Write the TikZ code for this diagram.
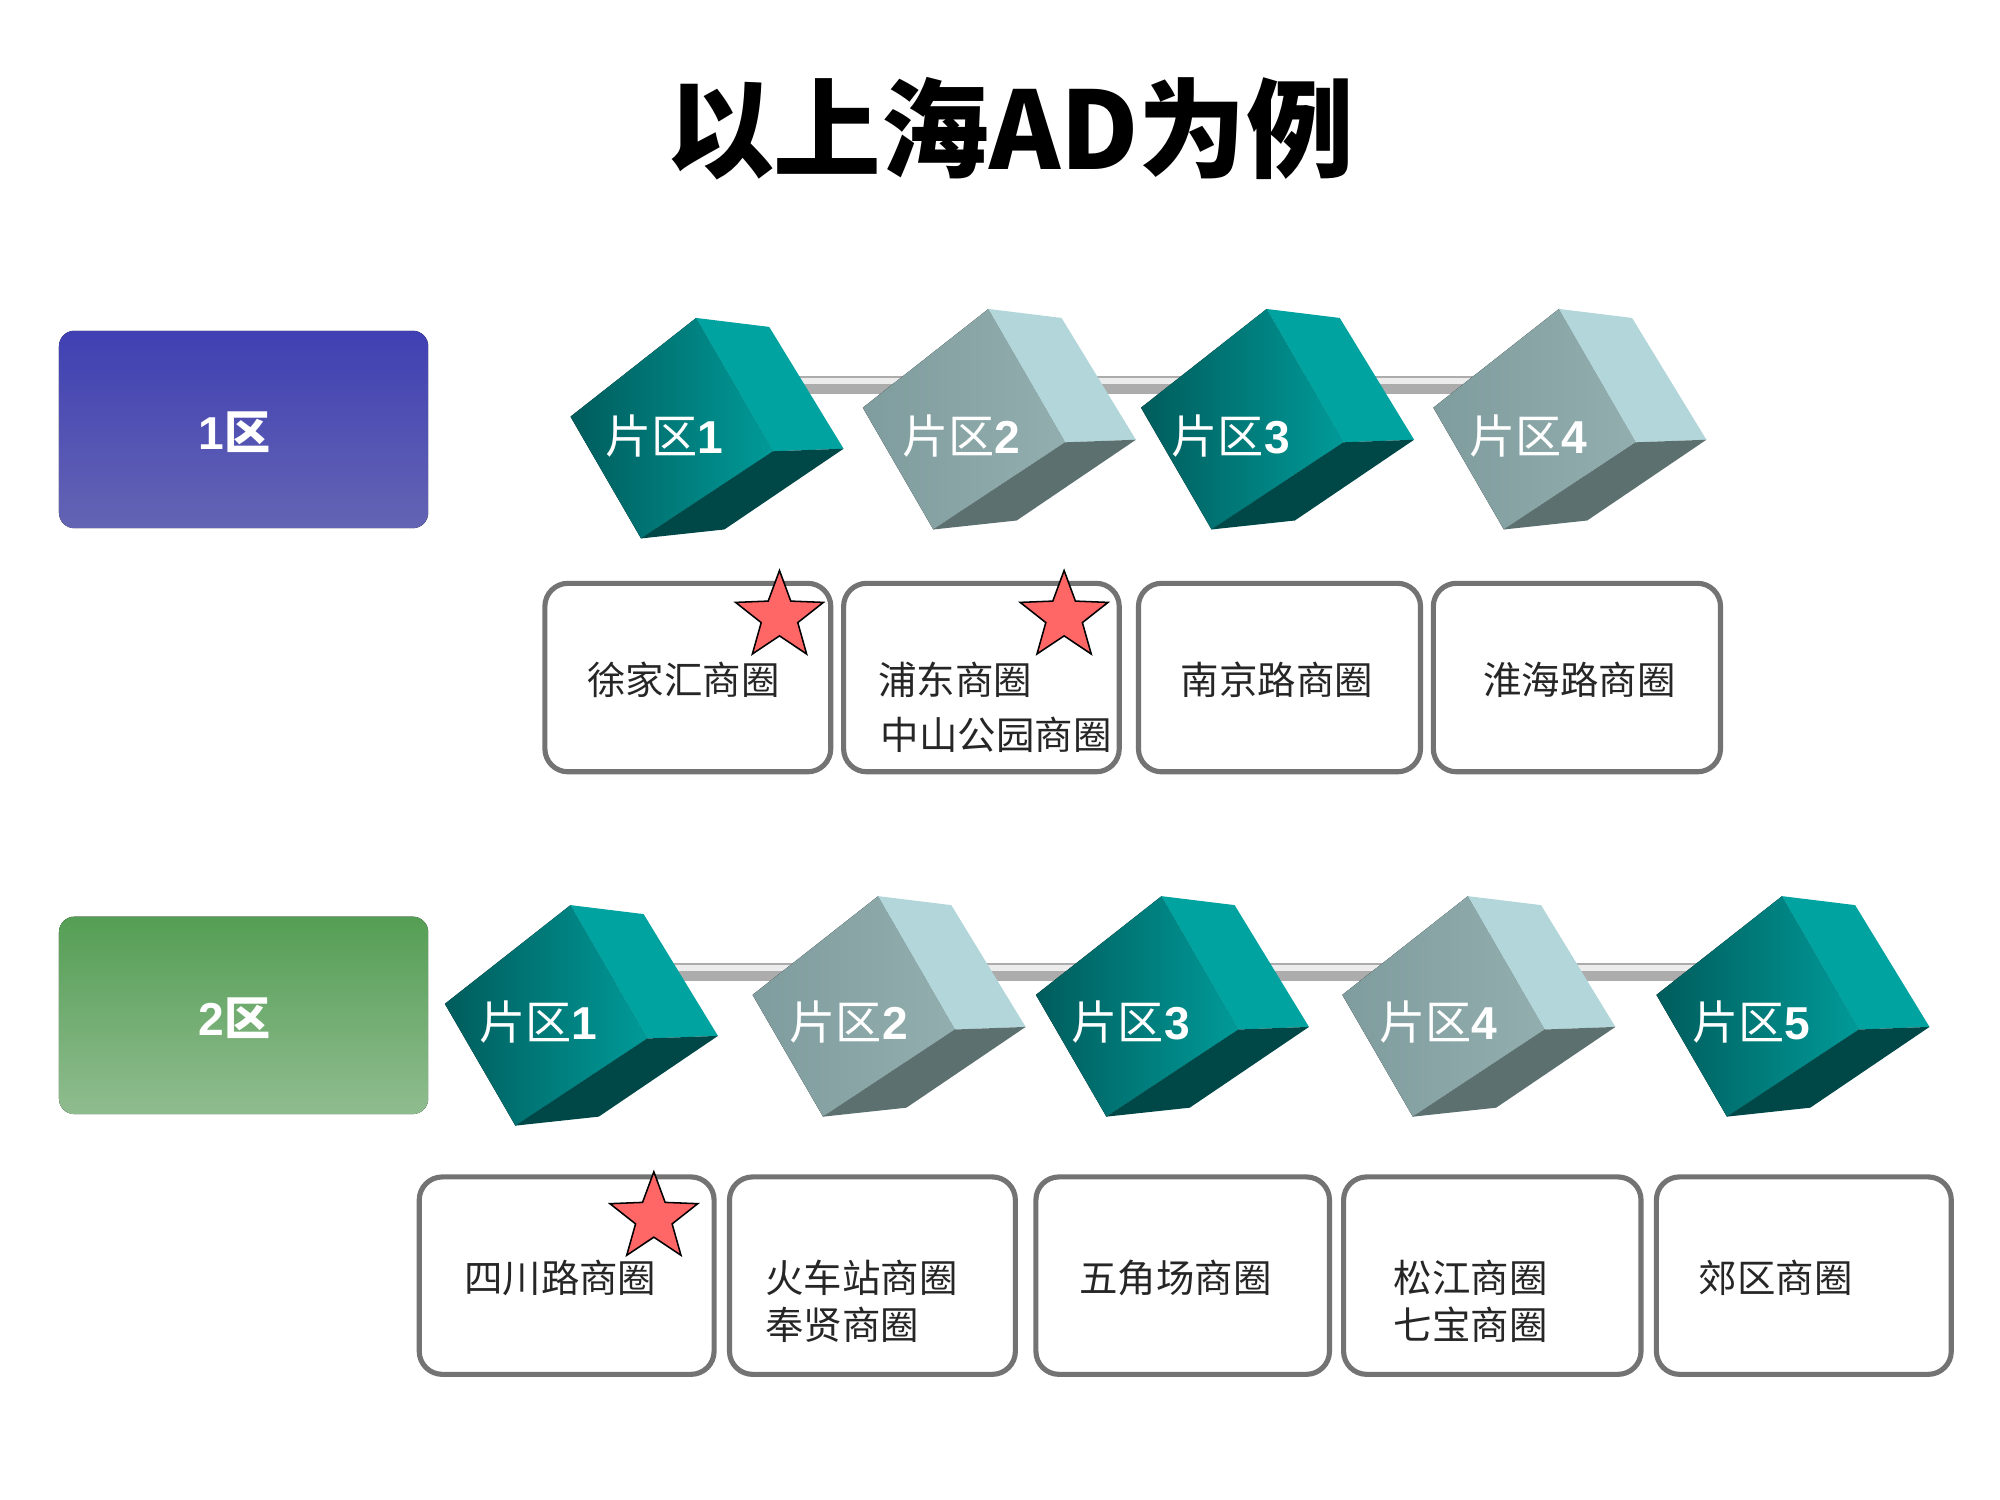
\documentclass[tikz,border=0pt]{standalone}
\usepackage{fontspec}
\newfontfamily\cjk{Noto Sans CJK SC}
\setsansfont{Liberation Sans}
\usetikzlibrary{shapes.geometric}
\definecolor{tA}{HTML}{009A98}\definecolor{tB}{HTML}{005C5C}\definecolor{tR}{HTML}{00A3A0}\definecolor{tD}{HTML}{004848}
\definecolor{gA}{HTML}{93AEAE}\definecolor{gB}{HTML}{7F9C9E}\definecolor{gR}{HTML}{B2D6DA}\definecolor{gD}{HTML}{5C7070}
\tikzset{
 rod/.style={line width=7pt,draw=gray!65},
 rodhi/.style={line width=2.5pt,draw=white!85!gray},
 boxst/.style={draw=gray!90!black,line width=2pt,rounded corners=9pt},
 btxt/.style={font=\cjk\fontsize{15}{19}\selectfont,align=left,text=black!85},
 ctxt/.style={font=\cjk\fontsize{18}{20}\selectfont,text=white},
 zone/.style={rounded corners=6pt},
 starst/.style={star,star points=5,star point ratio=2.4,minimum size=36pt,inner sep=0,fill=red!60,draw=black,line width=0.6pt}
}
\newcommand\mycube[6]{% x y front back right bottom
 \begin{scope}[shift={(#1,#2)}]
 \fill[left color=#4,right color=#3] (0,0)--(98,-77)--(158,27)--(55,95)--cycle;
 \fill[#5] (98,-77)--(155,-70)--(213,25)--(158,27)--cycle;
 \fill[#6] (158,27)--(213,25)--(120,88)--(55,95)--cycle;
 \end{scope}}
\begin{document}
\begin{tikzpicture}[x=0.5pt,y=-0.5pt]
\useasboundingbox (0,0) rectangle (1560,1170);
\node[font=\cjk\fontsize{42}{44}\selectfont\bfseries] (title) at (788,100) {以上海AD为例};
% zones
\fill[zone,top color=blue!60!black!75,bottom color=blue!35!gray!90] (46,258) rectangle (334,412);
\node[font=\sffamily\bfseries\fontsize{18}{20}\selectfont,text=white] (z1) at (183,337) {1{\cjk 区}};
\fill[zone,top color=green!30!gray!95!black,bottom color=green!25!gray!70] (46,715) rectangle (334,869);
\node[font=\sffamily\bfseries\fontsize{18}{20}\selectfont,text=white] (z2) at (183,794) {2{\cjk 区}};
% row 1
\foreach \i/\x/\y in {1/445/325,2/673/325,3/890/325,4/1118/325}{\coordinate (r\i) at (\x+100,\y-25);}
\foreach \a/\b in {r1/r2,r2/r3,r3/r4}{\draw[rod] (\a)--(\b); \draw[rodhi] ([yshift=1.5]\a)--([yshift=1.5]\b);}
\mycube{445}{325}{tA}{tB}{tR}{tD}
\mycube{673}{318}{gA}{gB}{gR}{gD}
\mycube{890}{318}{tA}{tB}{tR}{tD}
\mycube{1118}{318}{gA}{gB}{gR}{gD}
\foreach \i/\x in {1/518,2/750,3/960,4/1192}{\node[ctxt] (c1\i) at (\x,340) {片区\sffamily\bfseries\i};}
% row 2
\foreach \i/\x in {1/347,2/587,3/808,4/1047,5/1292}{\coordinate (s\i) at (\x+100,758);}
\foreach \a/\b in {s1/s2,s2/s3,s3/s4,s4/s5}{\draw[rod] (\a)--(\b); \draw[rodhi] ([yshift=1.5]\a)--([yshift=1.5]\b);}
\mycube{347}{783}{tA}{tB}{tR}{tD}
\mycube{587}{776}{gA}{gB}{gR}{gD}
\mycube{808}{776}{tA}{tB}{tR}{tD}
\mycube{1047}{776}{gA}{gB}{gR}{gD}
\mycube{1292}{776}{tA}{tB}{tR}{tD}
\foreach \i/\x in {1/420,2/662,3/882,4/1122,5/1366}{\node[ctxt] (c2\i) at (\x,797) {片区\sffamily\bfseries\i};}
% boxes row 1
\draw[boxst] (425,455) rectangle (648,602);
\draw[boxst] (658,455) rectangle (873,602);
\draw[boxst] (888,455) rectangle (1108,602);
\draw[boxst] (1118,455) rectangle (1342,602);
\node[btxt] (b11) at (533,530) {徐家汇商圈};
\node[btxt,anchor=west] (b12) at (678,530) {浦东商圈};
\node[btxt,anchor=west] (b12b) at (680,573) {中山公园商圈};
\node[btxt] (b13) at (996,530) {南京路商圈};
\node[btxt] (b14) at (1232,530) {淮海路商圈};
% boxes row 2
\draw[boxst] (327,918) rectangle (557,1072);
\draw[boxst] (569,918) rectangle (792,1072);
\draw[boxst] (808,918) rectangle (1037,1072);
\draw[boxst] (1048,918) rectangle (1280,1072);
\draw[boxst] (1292,918) rectangle (1522,1072);
\node[btxt] (b21) at (437,997) {四川路商圈};
\node[btxt,anchor=west] (b22) at (590,997) {火车站商圈};
\node[btxt,anchor=west] (b22b) at (590,1033) {奉贤商圈};
\node[btxt] (b23) at (917,997) {五角场商圈};
\node[btxt,anchor=west] (b24) at (1080,997) {松江商圈};
\node[btxt,anchor=west] (b24b) at (1080,1033) {七宝商圈};
\node[btxt] (b25) at (1385,997) {郊区商圈};
% stars
\node[starst] (st1) at (608,481) {};
\node[starst] (st2) at (830,481) {};
\node[starst] (st3) at (510,950) {};
\end{tikzpicture}
\end{document}
